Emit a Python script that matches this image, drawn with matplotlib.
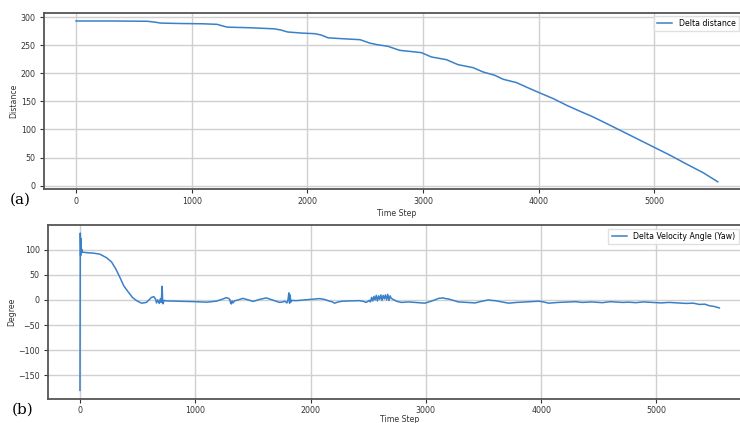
import matplotlib.pyplot as plt

# (a) distance between the two vehicles over time
dist_step = [0, 300, 615, 680, 730, 900, 1100, 1220, 1270, 1310, 1500, 1715, 1770, 1830,
             1950, 2065, 2120, 2180, 2300, 2456, 2538, 2600, 2697, 2798, 2986, 3072,
             3202, 3303, 3433, 3519, 3620, 3693, 3808, 3909, 4024, 4125, 4241, 4356,
             4457, 4558, 4703, 4847, 4991, 5135, 5280, 5424, 5548]
dist_val = [293, 293, 292.5, 291, 289.3, 288.5, 288, 287, 284, 282, 281, 279, 277, 273.4,
            271.5, 270.4, 268, 263, 261.5, 259.7, 253.8, 251, 247.9, 240.8, 236.7, 229,
            224.2, 215.3, 210, 202.3, 196.4, 189.3, 183.4, 174, 163.8, 155, 143.1, 132.5,
            123.6, 113.5, 98.7, 83.9, 69.1, 54.3, 38.3, 22.9, 7]

# (b) yaw angle difference
yaw_step = [0, 3, 6, 9, 12, 15, 20, 60, 120, 173, 230, 274, 310, 346, 380, 418, 455, 490,
            534, 577, 620, 640, 655, 664, 675, 687, 697, 705, 713, 717, 721, 730, 750,
            830, 924, 1000, 1097, 1183, 1230, 1270, 1290, 1299, 1306, 1313, 1320, 1328,
            1340, 1356, 1414, 1460, 1501, 1560, 1616, 1680, 1732, 1760, 1775, 1795, 1805,
            1812, 1818, 1822, 1830, 1840, 1876, 1950, 2020, 2078, 2120, 2165, 2190, 2208,
            2240, 2280, 2350, 2424, 2460, 2482, 2511, 2520, 2530, 2540, 2550, 2560, 2570,
            2580, 2590, 2600, 2610, 2620, 2630, 2640, 2650, 2660, 2670, 2680, 2690, 2700,
            2715, 2750, 2788, 2850, 2904, 2950, 2991, 3040, 3078, 3110, 3151, 3170, 3195,
            3240, 3282, 3350, 3427, 3480, 3543, 3570, 3601, 3660, 3717, 3790, 3862, 3920,
            3978, 4020, 4065, 4150, 4240, 4300, 4356, 4440, 4530, 4600, 4704, 4760, 4820,
            4890, 4965, 5040, 5110, 5180, 5256, 5320, 5372, 5420, 5459, 5500, 5546]
yaw_val = [-180, 133, 88, 122, 93, 101, 95, 94, 93, 91, 84, 75.5, 62, 45, 28, 16, 5, -1.3,
           -6.5, -5, 5, 6.5, 2, -6, 0, -7, 2, -5, 27, -3, -7.7, -1, -2,
           -2.5, -3, -3.5, -4.5, -2.5, 1, 4.5, 3, 1, -5, -8, -2, -6,
           -2, -1, 3, 0, -3, 1, 4, -1, -5, -4, -2.5, -6, 1,
           14, -6.5, 10, -4, -1, -1.5, 0, 1.5, 2.6, 1, -2.5, -4, -6.5,
           -4, -2.5, -2, -1.5, -3, -5, -1, -4, 5, -2, 7, 0, 9,
           -2, 8, 1, 10, -1, 9, 2, 10, 0, 11, -1, 8, 3,
           1, -3, -5, -4, -5, -6, -6.5, -3, 0, 3, 4, 2.5, 2,
           -1, -4, -5, -6, -3, 0, -1, -1.5, -4, -6.5, -5, -4, -3,
           -2.6, -4, -6.5, -5, -4, -3.5, -5, -4, -5.5, -3.5, -5, -4.5, -5.5,
           -4, -5, -6, -5, -6, -7, -6.5, -9, -8.5, -11.6, -13, -16]

line_color = '#3a80c8'
txt = '#333333'

fig = plt.figure(figsize=(7.4, 4.23), dpi=100)
ax1 = fig.add_axes([0.0595, 0.553, 0.954, 0.416])
ax2 = fig.add_axes([0.0649, 0.057, 0.951, 0.411])

for ax in (ax1, ax2):
    ax.grid(True, color='#d0d0d0', linewidth=1.0)
    ax.set_axisbelow(True)
    ax.tick_params(labelsize=5.7, colors=txt, length=3, width=0.8, pad=3)
    ax.set_xticks([0, 1000, 2000, 3000, 4000, 5000])
    ax.set_xlim(-277, 5827)
    for s in ax.spines.values():
        s.set_color('#555555')
        s.set_linewidth(1.3)

ax1.plot(dist_step, dist_val, color=line_color, linewidth=1.1, label='Delta distance')
ax1.set_xlabel('Time Step', fontsize=5.6, color=txt, labelpad=2)
ax1.set_ylabel('Distance', fontsize=5.6, color=txt, labelpad=2)
ax1.set_yticks([0, 50, 100, 150, 200, 250, 300])
ax1.set_ylim(-6, 307)
ax1.legend(loc='upper right', bbox_to_anchor=(0.998, 0.962), bbox_transform=fig.transFigure,
           borderaxespad=0, fontsize=5.6, framealpha=0.9, edgecolor='#dddddd', fancybox=False)

ax2.plot(yaw_step, yaw_val, color=line_color, linewidth=1.1, label='Delta Velocity Angle (Yaw)')
ax2.tick_params(axis='x', pad=2)
ax2.set_xlabel('Time Step', fontsize=5.6, color=txt, labelpad=0)
ax2.set_ylabel('Degree', fontsize=5.6, color=txt, labelpad=1)
ax2.set_yticks([-150, -100, -50, 0, 50, 100])
ax2.set_ylim(-197, 149)
ax2.legend(loc='upper right', bbox_to_anchor=(0.998, 0.459), bbox_transform=fig.transFigure,
           borderaxespad=0, fontsize=5.6, framealpha=0.9, edgecolor='#dddddd', fancybox=False)

fig.text(0.027, 0.527, '(a)', fontsize=11, family='DejaVu Serif', ha='center', va='center')
fig.text(0.030, 0.031, '(b)', fontsize=11, family='DejaVu Serif', ha='center', va='center')

fig.savefig('out.png', dpi=100)
